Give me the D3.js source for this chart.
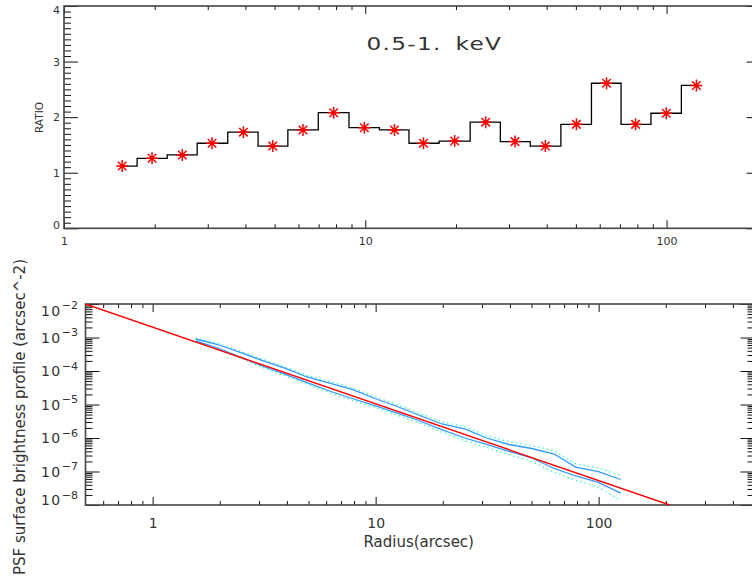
<!DOCTYPE html>
<html lang="en">
<head>
<meta charset="UTF-8">
<title>PSF profile and ratio</title>
<script src="https://d3js.org/d3.v7.min.js"></script>
<style>
  body { margin: 0; background: #fff; }
  text { font-family: "DejaVu Sans", sans-serif; fill: #333; }
</style>
</head>
<body>
<div id="chart"></div>
<script>
// annulus radii (arcsec), shared by both panels
const radius = [1.56, 1.96, 2.47, 3.1, 3.94, 4.93, 6.21, 7.85, 9.93, 12.5, 15.6, 19.8, 25.1, 31.4, 39.6, 50.2, 63.2, 78.9, 99.8, 125.6];
// top panel
const ratio = [1.12, 1.26, 1.32, 1.53, 1.73, 1.48, 1.77, 2.08, 1.81, 1.77, 1.53, 1.57, 1.91, 1.56, 1.48, 1.87, 2.61, 1.87, 2.07, 2.57];
// bottom panel profiles
const upperBlue = [9.02e-4, 6.18e-4, 3.57e-4, 2.06e-4, 1.19e-4, 6.62e-5, 4.38e-5, 2.81e-5, 1.51e-5, 8.71e-6, 4.86e-6, 2.62e-6, 1.86e-6, 1.0e-6, 6.40e-7, 4.86e-7, 3.33e-7, 1.36e-7, 9.86e-8, 5.77e-8];
const lowerBlue = [7.87e-4, 4.86e-4, 2.62e-4, 1.41e-4, 7.87e-5, 4.48e-5, 2.53e-5, 1.51e-5, 9.33e-6, 5.57e-6, 3.33e-6, 1.79e-6, 1.0e-6, 6.40e-7, 4.01e-7, 2.53e-7, 1.23e-7, 7.34e-8, 4.76e-8, 2.25e-8];
const upperDot = [9.66e-4, 6.71e-4, 3.87e-4, 2.25e-4, 1.31e-4, 7.35e-5, 4.90e-5, 3.15e-5, 1.71e-5, 9.93e-6, 5.57e-6, 3.05e-6, 2.19e-6, 1.19e-6, 7.71e-7, 5.93e-7, 4.09e-7, 1.71e-7, 1.27e-7, 7.71e-8];
const lowerDot = [7.35e-4, 4.54e-4, 2.44e-4, 1.29e-4, 7.15e-5, 4.01e-5, 2.25e-5, 1.33e-5, 8.18e-6, 4.83e-6, 2.84e-6, 1.51e-6, 8.30e-7, 5.24e-7, 3.21e-7, 1.99e-7, 9.40e-8, 5.46e-8, 3.42e-8, 1.36e-8];
// red model line
const modelR = [0.5, 208];
const modelV = [1e-2, 1e-8];
// tick labels
const ratioTicks = [0, 1, 2, 3, 4];
const topXTicks = [1, 10, 100];
const botXTicks = [1, 10, 100];
const profExp = [-2, -3, -4, -5, -6, -7, -8];
const title = "0.5-1. keV";

const W = 752, H = 577;
const svg = d3.select("#chart").append("svg")
    .attr("width", W).attr("height", H);
svg.append("rect").attr("width", W).attr("height", H).attr("fill", "#fff");

// ---------- top panel ----------
const t = {left: 64, right: 760.5, top: 6, bottom: 228.3};
const x1 = d3.scaleLog().domain([1, 205]).range([t.left, t.right]);
const y1 = d3.scaleLinear().domain([0, 4]).range([t.bottom, t.top]);

const minorLog = (lo, hi) => {
    const out = [];
    for (let e = Math.floor(Math.log10(lo)); e <= Math.ceil(Math.log10(hi)); e++)
        for (let m = 2; m <= 9; m++) {
            const v = m * 10 ** e;
            if (v > lo && v < hi) out.push(v);
        }
    return out;
};

const topG = svg.append("g").attr("color", "#111");

function tickAxis(g, axis) {
    g.call(axis).call(a => a.select(".domain").remove());
    g.selectAll(".tick line").attr("stroke-width", 1);
    return g;
}

// x axes top panel
tickAxis(topG.append("g").attr("transform", `translate(0,${t.bottom})`),
    d3.axisBottom(x1).tickValues(topXTicks).tickSize(-8).tickPadding(8.5).tickFormat(d3.format("d")))
    .selectAll("text").style("font-size", "11px");
tickAxis(topG.append("g").attr("transform", `translate(0,${t.bottom})`),
    d3.axisBottom(x1).tickValues(minorLog(1, 205)).tickSize(-4).tickFormat(""));
tickAxis(topG.append("g").attr("transform", `translate(0,${t.top})`),
    d3.axisTop(x1).tickValues(topXTicks).tickSize(-8).tickFormat(""));
tickAxis(topG.append("g").attr("transform", `translate(0,${t.top})`),
    d3.axisTop(x1).tickValues(minorLog(1, 205)).tickSize(-4).tickFormat(""));

// y axes top panel
const minorLin = d3.range(1, 40).map(i => i / 10).filter(v => v % 1 !== 0);
const yl = tickAxis(topG.append("g").attr("transform", `translate(${t.left},0)`),
    d3.axisLeft(y1).tickValues(ratioTicks).tickSize(-14).tickPadding(4).tickFormat(d3.format("d")));
yl.selectAll("text").style("font-size", "11px")
    .attr("y", d => Math.min(Math.max(y1(d), t.top + 3.8), t.bottom - 3.8) - y1(d));
tickAxis(topG.append("g").attr("transform", `translate(${t.left},0)`),
    d3.axisLeft(y1).tickValues(minorLin).tickSize(-7).tickFormat(""));
tickAxis(topG.append("g").attr("transform", `translate(${t.right},0)`),
    d3.axisRight(y1).tickValues(ratioTicks).tickSize(-14).tickFormat(""));
tickAxis(topG.append("g").attr("transform", `translate(${t.right},0)`),
    d3.axisRight(y1).tickValues(minorLin).tickSize(-7).tickFormat(""));

topG.append("rect")
    .attr("x", t.left).attr("y", t.top)
    .attr("width", t.right - t.left).attr("height", t.bottom - t.top)
    .attr("fill", "none").attr("stroke", "#444").attr("stroke-width", 1.6);

const ratioData = radius.map((r, i) => [r, ratio[i]]);
topG.append("path")
    .datum(ratioData)
    .attr("fill", "none").attr("stroke", "#000").attr("stroke-width", 1.3)
    .attr("d", d3.line().curve(d3.curveStep).x(d => x1(d[0])).y(d => y1(d[1])));

const asterisk = {
    draw(ctx, size) {
        const r = Math.sqrt(size) / 2, d = r * Math.SQRT1_2;
        ctx.moveTo(0, -r); ctx.lineTo(0, r);
        ctx.moveTo(-r, 0); ctx.lineTo(r, 0);
        ctx.moveTo(-d, -d); ctx.lineTo(d, d);
        ctx.moveTo(-d, d); ctx.lineTo(d, -d);
    }
};
topG.append("g").selectAll("path").data(ratioData).join("path")
    .attr("transform", d => `translate(${x1(d[0])},${y1(d[1])})`)
    .attr("d", d3.symbol().type(asterisk).size(144))
    .attr("fill", "none").attr("stroke", "#ff0000").attr("stroke-width", 1.5);

topG.append("text")
    .attr("transform", "translate(366.5,50) scale(1.29,1)")
    .style("font-size", "18px").style("letter-spacing", "1px").style("word-spacing", "4px")
    .text(title);

topG.append("text")
    .attr("transform", `translate(42.5,117.5) rotate(-90)`)
    .attr("text-anchor", "middle")
    .style("font-size", "10.5px")
    .text("RATIO");

// ---------- bottom panel ----------
const b = {left: 85.5, right: 754.5, top: 304, bottom: 505};
const x2 = d3.scaleLog().domain([0.5, 500]).range([b.left, b.right]);
const y2 = d3.scaleLog().domain([1e-8, 1e-2]).range([b.bottom, b.top]);
const botG = svg.append("g").attr("color", "#111");

tickAxis(botG.append("g").attr("transform", `translate(0,${b.bottom})`),
    d3.axisBottom(x2).tickValues(botXTicks).tickSize(-8).tickPadding(13).tickFormat(d3.format("d")))
    .selectAll("text").style("font-size", "14px");
tickAxis(botG.append("g").attr("transform", `translate(0,${b.bottom})`),
    d3.axisBottom(x2).tickValues(minorLog(0.5, 500)).tickSize(-4).tickFormat(""));
tickAxis(botG.append("g").attr("transform", `translate(0,${b.top})`),
    d3.axisTop(x2).tickValues(botXTicks).tickSize(-8).tickFormat(""));
tickAxis(botG.append("g").attr("transform", `translate(0,${b.top})`),
    d3.axisTop(x2).tickValues(minorLog(0.5, 500)).tickSize(-4).tickFormat(""));

const yMajor = profExp.map(e => 10 ** e);
const yMinor = minorLog(1e-8, 1e-2);
tickAxis(botG.append("g").attr("transform", `translate(${b.left},0)`),
    d3.axisLeft(y2).tickValues(yMajor).tickSize(-14).tickFormat(""));
tickAxis(botG.append("g").attr("transform", `translate(${b.left},0)`),
    d3.axisLeft(y2).tickValues(yMinor).tickSize(-7).tickFormat(""));
tickAxis(botG.append("g").attr("transform", `translate(${b.right},0)`),
    d3.axisRight(y2).tickValues(yMajor).tickSize(-14).tickFormat(""));
tickAxis(botG.append("g").attr("transform", `translate(${b.right},0)`),
    d3.axisRight(y2).tickValues(yMinor).tickSize(-7).tickFormat(""));

const ylab = botG.append("g").selectAll("text").data(profExp).join("text")
    .attr("x", 78).attr("text-anchor", "end")
    .attr("y", d => Math.min(Math.max(y2(10 ** d), b.top + 6.7), b.bottom - 5) + 5)
    .style("font-size", "14px");
ylab.append("tspan").style("letter-spacing", "1.5px").text("10");
ylab.append("tspan").attr("dy", -6.5).style("font-size", "11px").text(d => "\u2212" + (-d));

botG.append("rect")
    .attr("x", b.left).attr("y", b.top)
    .attr("width", b.right - b.left).attr("height", b.bottom - b.top)
    .attr("fill", "none").attr("stroke", "#444").attr("stroke-width", 1.6);

svg.append("clipPath").attr("id", "clipB").append("rect")
    .attr("x", b.left).attr("y", b.top)
    .attr("width", b.right - b.left).attr("height", b.bottom - b.top);

const plot = botG.append("g").attr("clip-path", "url(#clipB)");
const prof = d3.line().x(d => x2(d[0])).y(d => y2(d[1]));
const series = [
    {v: upperDot, color: "#33ffbb", dash: "1.5,3"},
    {v: lowerDot, color: "#33ffbb", dash: "1.5,3"},
    {v: upperBlue, color: "#3399ff", dash: null},
    {v: lowerBlue, color: "#3399ff", dash: null}
];
series.forEach(s => {
    plot.append("path")
        .datum(radius.map((r, i) => [r, s.v[i]]))
        .attr("fill", "none").attr("stroke", s.color).attr("stroke-width", 1.3)
        .attr("stroke-dasharray", s.dash)
        .attr("d", prof);
});
plot.append("path")
    .datum(modelR.map((r, i) => [r, modelV[i]]))
    .attr("fill", "none").attr("stroke", "#ff0000").attr("stroke-width", 1.4)
    .attr("d", prof);

botG.append("text")
    .attr("x", 418.7).attr("y", 547)
    .attr("text-anchor", "middle")
    .style("font-size", "15px")
    .text("Radius(arcsec)");

botG.append("text")
    .attr("transform", `translate(24.5,417) rotate(-90)`)
    .attr("text-anchor", "middle")
    .style("font-size", "15px")
    .text("PSF surface brightness profile (arcsec^-2)");
</script>
</body>
</html>
